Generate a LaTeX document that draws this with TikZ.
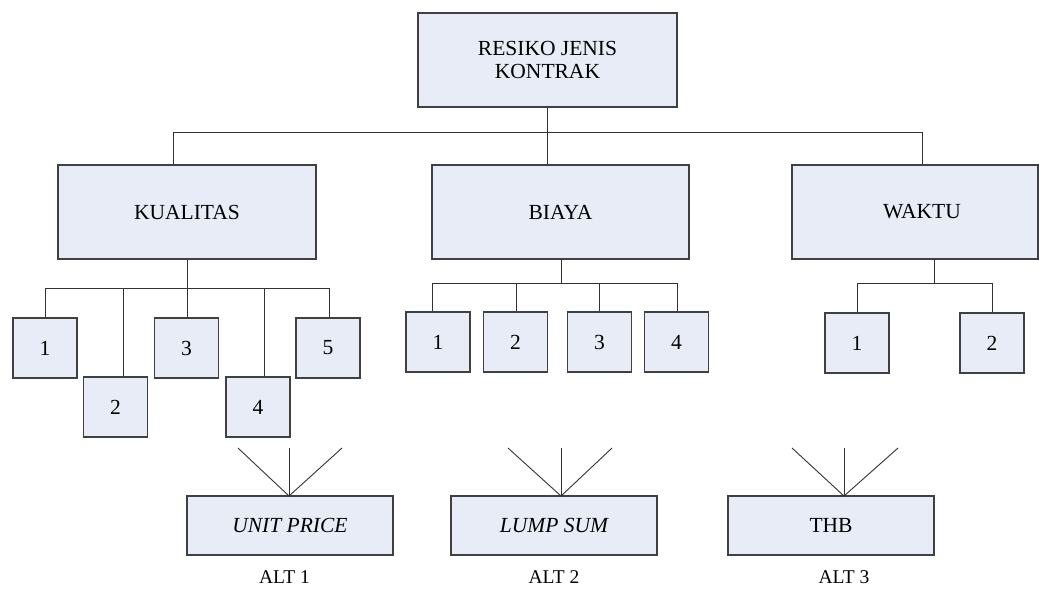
\documentclass[tikz,border=0pt]{standalone}
\usepackage{fontspec}
\setmainfont{Liberation Serif}
\definecolor{boxfill}{HTML}{E7ECF7}
\definecolor{boxline}{HTML}{404040}
\definecolor{wire}{HTML}{333333}
\begin{document}
\begin{tikzpicture}[x=1pt,y=-1pt,
  every node/.style={font=\fontsize{21.5}{23}\selectfont},
  bigbox/.style={draw=boxline,fill=boxfill,line width=1.1pt,inner sep=0pt,minimum height=94pt,align=center},
  numbox/.style={draw=boxline,fill=boxfill,line width=1.1pt,inner sep=0pt,minimum width=64pt,minimum height=60pt},
  altbox/.style={draw=boxline,fill=boxfill,line width=1.1pt,inner sep=0pt,minimum width=206pt,minimum height=59pt},
  lbl/.style={inner sep=0pt,font=\fontsize{19.5}{22}\selectfont},
  wire/.style={draw=wire,line width=0.9pt}]
\useasboundingbox (0,0) rectangle (1039,590);
% main boxes
\node[bigbox,minimum width=259pt] (top) at (547.5,60) {RESIKO JENIS\\KONTRAK};
\node[bigbox,minimum width=258pt] (kual) at (187,212) {KUALITAS};
\node[bigbox,minimum width=257pt] (bia) at (560.5,212) {BIAYA};
\node[bigbox,minimum width=246pt,text width=232pt,align=center] (wak) at (915,212) {\hspace*{14pt}WAKTU};
% top connectors
\coordinate (bL) at (173,132);
\coordinate (bM) at (547.5,132);
\coordinate (bR) at (922,132);
\draw[wire] (bL) -- (bR);
\draw[wire] (top.south) -- (bM);
\draw[wire] (bL) -- (bL |- kual.north);
\draw[wire] (bM) -- (bM |- bia.north);
\draw[wire] (bR) -- (bR |- wak.north);
% KUALITAS children
\node[numbox] (k1) at (45,348) {1};
\node[numbox] (k2) at (115.5,407) {2};
\node[numbox] (k3) at (186.5,348) {3};
\node[numbox] (k4) at (258,407) {4};
\node[numbox] (k5) at (328,348) {5};
\coordinate (kA) at (187,288);
\coordinate (kL) at (45,288);
\coordinate (kR) at (329,288);
\coordinate (k2t) at (123,288);
\coordinate (k4t) at (264,288);
\draw[wire] (kual.south) -- (kA);
\draw[wire] (kL) -- (kR);
\draw[wire] (kL) -- (k1.north);
\draw[wire] (k2t) -- (k2t |- k2.north);
\draw[wire] (kA) -- (kA |- k3.north);
\draw[wire] (k4t) -- (k4t |- k4.north);
\draw[wire] (kR) -- (kR |- k5.north);
% BIAYA children
\node[numbox] (b1) at (438,342) {1};
\node[numbox] (b2) at (515.5,342) {2};
\node[numbox] (b3) at (599.5,342) {3};
\node[numbox] (b4) at (676.5,342) {4};
\coordinate (bA) at (561,283);
\coordinate (bbL) at (432,283);
\coordinate (bb2) at (516,283);
\coordinate (bb3) at (599,283);
\coordinate (bbR) at (677,283);
\draw[wire] (bA |- bia.south) -- (bA);
\draw[wire] (bbL) -- (bbR);
\draw[wire] (bbL) -- (bbL |- b1.north);
\draw[wire] (bb2) -- (bb2 |- b2.north);
\draw[wire] (bb3) -- (bb3 |- b3.north);
\draw[wire] (bbR) -- (bbR |- b4.north);
% WAKTU children
\node[numbox] (w1) at (857,343) {1};
\node[numbox] (w2) at (992,343) {2};
\coordinate (wA) at (934,283);
\coordinate (wL) at (857,283);
\coordinate (wR) at (992,283);
\draw[wire] (wA |- wak.south) -- (wA);
\draw[wire] (wL) -- (wR);
\draw[wire] (wL) -- (w1.north);
\draw[wire] (wR) -- (w2.north);
% alternatives
\node[altbox] (a1) at (290,525.5) {\itshape UNIT PRICE};
\node[altbox] (a2) at (554,525.5) {\itshape LUMP SUM};
\node[altbox] (a3) at (831,525.5) {THB};
\node[lbl] (l1) at (284.5,577) {ALT 1};
\node[lbl] (l2) at (554,577) {ALT 2};
\node[lbl] (l3) at (844,577) {ALT 3};
% fans
\foreach \n/\ax/\xl/\xr in {1/289/238/342, 2/561/508/612, 3/844/792/898}{
  \coordinate (p\n) at (\ax,496);
  \coordinate (f\n a) at (\xl,448);
  \coordinate (f\n b) at (\ax,448);
  \coordinate (f\n c) at (\xr,448);
  \draw[wire] (f\n a) -- (p\n) -- (f\n c);
  \draw[wire] (f\n b) -- (p\n);
}
\end{tikzpicture}
\end{document}
